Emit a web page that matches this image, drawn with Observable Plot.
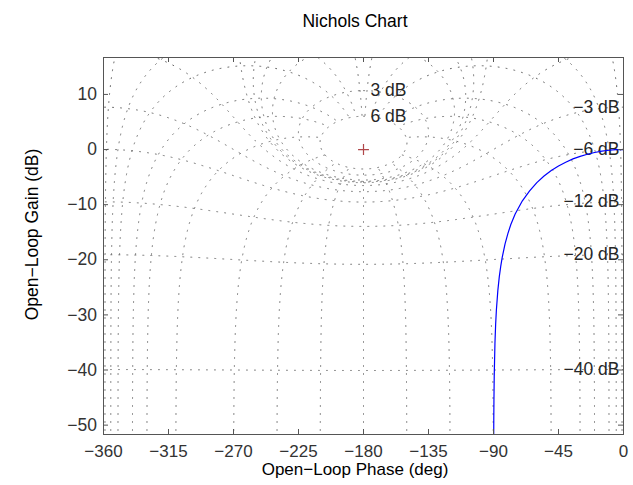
<!DOCTYPE html>
<html>
<head>
<meta charset="utf-8">
<script src="https://cdn.jsdelivr.net/npm/d3@7"></script>
<script src="https://cdn.jsdelivr.net/npm/@observablehq/plot@0.6"></script>
<style>
  html, body { margin: 0; padding: 0; background: #ffffff; }
  #chart svg { display: block; }
</style>
</head>
<body>
<div id="chart"></div>
<script>
// ---- Text ----
const titleText = "Nichols Chart";
const xLabelText = "Open\u2212Loop Phase (deg)";
const yLabelText = "Open\u2212Loop Gain (dB)";

// ---- Axes ----
const xDomain = [-360, 0];
const yDomain = [-51.7, 16.7];
const xTicks = [-360, -315, -270, -225, -180, -135, -90, -45, 0];
const yTicks = [-50, -40, -30, -20, -10, 0, 10];

// ---- Nichols grid contour values (closed-loop) ----
const closedLoopGainsDb = [6, 3, 1, 0.5, 0.25, 0, -1, -3, -6, -12, -20, -40, -60];
const closedLoopPhasesDeg = [-1, -5, -10, -20, -30, -50, -90, -120, -150, -180,
                             -210, -240, -270, -310, -330, -340, -350, -355, -359];
const phaseContourMaxGainDb = 6;   // phase contours stop on the 6 dB circle

// ---- Open-loop response ----
const responsePhaseDeg = [0, -5, -10, -15, -20, -25, -30, -35, -40, -45, -50, -55, -60, -65, -70,
  -75, -78, -80, -82, -84, -85, -86, -87, -88, -88.5, -89, -89.5, -89.7, -89.8, -89.85, -89.87];
const responseGainDb = [0, -0.03, -0.13, -0.3, -0.54, -0.86, -1.25, -1.7, -2.3, -3.0, -3.8, -4.8, -6.0, -7.5, -9.3,
  -11.7, -13.6, -15.2, -17.1, -19.6, -21.2, -23.1, -25.6, -29.1, -31.6, -35.2, -41.2, -45.6, -49.1, -51.6, -52.9];

// ---- Critical point ----
const criticalPhase = [-180];
const criticalGain = [0];

// ---- Build tables ----
const response = responsePhaseDeg.map((p, i) => ({phase: p, gain: responseGainDb[i]}));
const critical = criticalPhase.map((p, i) => ({phase: p, gain: criticalGain[i]}));

const rad = Math.PI / 180;
// open-loop value G = T/(1-T) for closed-loop T = m e^{j psi}
function openLoop(m, psiDeg, wrapMode) {
  const psi = psiDeg * rad;
  const tr = m * Math.cos(psi), ti = m * Math.sin(psi);
  const re = 1 - tr, im = -ti;           // 1 - T
  const den = Math.hypot(re, im);
  const gain = 20 * Math.log10(m / den);
  let phase;
  if (wrapMode === "direct") {
    const gr = tr * re + ti * im, gi = ti * re - tr * im;
    phase = Math.atan2(gi, gr) / rad;
    if (phase > 0) phase -= 360;
  } else {
    phase = psiDeg - Math.atan2(im, re) / rad;
  }
  return {phase, gain};
}

const grid = [];
closedLoopGainsDb.forEach((db, k) => {
  const m = Math.pow(10, db / 20);
  for (let s = 0; s <= 2880; s++) {
    const psi = -0.05 - s * (359.9 / 2880);
    const p = openLoop(m, psi, m > 1 ? "direct" : "cont");
    if (isFinite(p.gain) && isFinite(p.phase)) grid.push({...p, id: "M" + k});
  }
});
const logMax = phaseContourMaxGainDb / 20;
closedLoopPhasesDeg.forEach((ph, k) => {
  for (let s = 0; s <= 4000; s++) {
    const m = Math.pow(10, -4 + s * (logMax + 4) / 4000);
    const p = openLoop(m, ph, "cont");
    if (isFinite(p.gain) && isFinite(p.phase)) grid.push({...p, id: "N" + k});
  }
});

// contour labels
const gridLabels = [];
closedLoopGainsDb.forEach(db => {
  if (db === 0) return;
  const m = Math.pow(10, db / 20);
  const lab = (db < 0 ? "\u2212" + (-db) : String(db)) + " dB";
  if (m > 1) {
    gridLabels.push({phase: -180, gain: 20 * Math.log10(m / (m - 1)), text: lab, side: "top"});
  } else {
    gridLabels.push({phase: 0, gain: 20 * Math.log10(m / (1 - m)), text: lab, side: "right"});
  }
});
const visibleLabels = gridLabels.filter(d => d.gain > yDomain[0] && d.gain < yDomain[1]);

// ---- Layout ----
const W = 633, H = 485;
const mL = 103, mR = 10, mT = 57, mB = 51;
const frameW = W - mL - mR, frameH = H - mT - mB;
const axisColor = "#555555";
const font = "'Liberation Sans', Arial, Helvetica, sans-serif";

const chart = Plot.plot({
  width: W,
  height: H,
  marginLeft: mL,
  marginRight: mR,
  marginTop: mT,
  marginBottom: mB,
  style: {fontFamily: font, fontSize: "17px", background: "#ffffff", color: "#262626"},
  x: {domain: xDomain},
  y: {domain: yDomain},
  marks: [
    Plot.line(grid, {x: "phase", y: "gain", z: "id", stroke: "#666666", strokeWidth: 1,
      strokeDasharray: "1,7", clip: true}),
    Plot.text(visibleLabels.filter(d => d.side === "top"), {x: "phase", y: "gain", text: "text",
      textAnchor: "start", lineAnchor: "middle", dx: 7, fill: "#262626", fontSize: 17.5}),
    Plot.text(visibleLabels.filter(d => d.side === "right"), {x: "phase", y: "gain", text: "text",
      textAnchor: "end", lineAnchor: "middle", dx: -4, fill: "#262626", fontSize: 17.5}),
    Plot.dot(critical, {x: "phase", y: "gain", symbol: "plus", r: 3.6, stroke: "#b0474a", strokeWidth: 1.2}),
    Plot.line(response, {x: "phase", y: "gain", stroke: "#0000ff", strokeWidth: 1.2, clip: true}),
    Plot.frame({stroke: axisColor, strokeWidth: 1}),
    // inward ticks on all four sides
    Plot.tickX(xTicks, {x: d => d, insetTop: frameH - 5, stroke: axisColor}),
    Plot.tickX(xTicks, {x: d => d, insetBottom: frameH - 5, stroke: axisColor}),
    Plot.tickY(yTicks, {y: d => d, insetRight: frameW - 5, stroke: axisColor}),
    Plot.tickY(yTicks, {y: d => d, insetLeft: frameW - 5, stroke: axisColor}),
    Plot.axisX(xTicks, {anchor: "bottom", tickSize: 0, tickPadding: 10, label: null, fill: "#333333", fontSize: 17}),
    Plot.axisY(yTicks, {anchor: "left", tickSize: 0, tickPadding: 6.5, label: null, fill: "#333333", fontSize: 17.5}),
    Plot.text([titleText], {frameAnchor: "top", textAnchor: "middle", lineAnchor: "middle",
      dx: -8.5, dy: -36.5, fill: "#000000", fontSize: 17.5}),
    Plot.text([xLabelText], {frameAnchor: "bottom", textAnchor: "middle", lineAnchor: "middle",
      dx: -8.5, dy: 35.5, fill: "#000000", fontSize: 17}),
    Plot.text([yLabelText], {frameAnchor: "left", textAnchor: "middle", lineAnchor: "middle",
      rotate: -90, dx: -71.3, dy: -11.5, fill: "#000000", fontSize: 17.5})
  ]
});
document.getElementById("chart").appendChild(chart);
</script>
</body>
</html>
